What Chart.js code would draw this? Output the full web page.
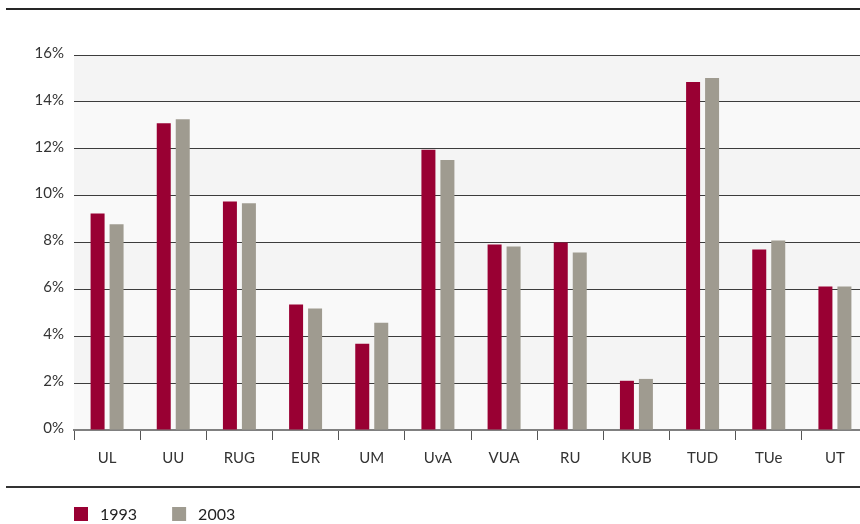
<!DOCTYPE html>
<html>
<head>
<meta charset="utf-8">
<script src="https://cdn.jsdelivr.net/npm/chart.js@4"></script>
<style>
  html, body { margin: 0; padding: 0; background: #fff; overflow: hidden; }
  #wrap { width: 880px; height: 524px; }
</style>
</head>
<body>
<div id="wrap"><canvas id="grafiek" width="880" height="524"></canvas></div>
<script>
const universiteiten = ["UL", "UU", "RUG", "EUR", "UM", "UvA", "VUA", "RU", "KUB", "TUD", "TUe", "UT"];
const jaren = ["1993", "2003"];
const waarden1993 = [9.24, 13.09, 9.75, 5.35, 3.68, 11.96, 7.92, 8.0, 2.1, 14.85, 7.7, 6.12];
const waarden2003 = [8.78, 13.26, 9.67, 5.18, 4.58, 11.52, 7.83, 7.57, 2.18, 15.02, 8.09, 6.12];
const kleuren = ["#990033", "#9f9b90"];

const lettertype = "Lato, 'Open Sans', sans-serif";

// banden achter de rasterlijnen, lijnen boven en onder, en de legenda
const extraTekenen = {
  id: "extraTekenen",
  beforeDraw(chart) {
    const ctx = chart.ctx;
    const y = chart.scales.y;
    const area = chart.chartArea;
    ctx.save();
    for (let v = y.max; v > y.min; v -= 2) {
      const boven = y.getPixelForValue(v);
      const onder = y.getPixelForValue(v - 2);
      ctx.fillStyle = ((y.max - v) / 2) % 2 === 0 ? "#f4f4f4" : "#f9f9f9";
      ctx.fillRect(area.left, boven, area.right - area.left, onder - boven);
    }
    ctx.restore();
  },
  afterDraw(chart) {
    const ctx = chart.ctx;
    const area = chart.chartArea;
    ctx.save();
    ctx.fillStyle = "#262626";
    ctx.fillRect(6, 8, chart.width, 2);
    ctx.fillStyle = "#333";
    ctx.fillRect(6, 486, chart.width, 2);

    ctx.font = "16px " + lettertype;
    ctx.textBaseline = "middle";
    let x = area.left;
    chart.data.datasets.forEach((ds) => {
      ctx.fillStyle = ds.backgroundColor;
      ctx.fillRect(x, 507, 14, 14);
      ctx.fillStyle = "#222";
      ctx.fillText(ds.label, x + 26, 515);
      x += 26 + ctx.measureText(ds.label).width + 35;
    });
    ctx.restore();
  },
};

const ctx = document.getElementById("grafiek").getContext("2d");
const grafiek = new Chart(ctx, {
  type: "bar",
  data: {
    labels: universiteiten,
    datasets: [
      {
        label: jaren[0],
        data: waarden1993,
        backgroundColor: kleuren[0],
        categoryPercentage: 0.574,
        barPercentage: 0.737,
      },
      {
        label: jaren[1],
        data: waarden2003,
        backgroundColor: kleuren[1],
        categoryPercentage: 0.574,
        barPercentage: 0.737,
      },
    ],
  },
  options: {
    responsive: false,
    animation: false,
    layout: {
      padding: { left: 0, right: 12, top: 55, bottom: 54 },
    },
    plugins: {
      legend: { display: false },
      tooltip: { enabled: false },
    },
    scales: {
      x: {
        grid: {
          offset: true,
          drawOnChartArea: false,
          drawTicks: true,
          tickLength: 10,
          color: "#555",
          lineWidth: 1,
        },
        border: { display: true, color: "#808080", width: 2 },
        ticks: {
          color: "#333",
          font: { family: lettertype, size: 15 },
          padding: 9,
          maxRotation: 0,
        },
        afterFit(scale) {
          scale.height = 40;
          scale.paddingLeft = 0;
          scale.paddingRight = 0;
        },
      },
      y: {
        min: 0,
        max: 16,
        grid: {
          drawTicks: false,
          color: (c) => (c.tick.value === 0 ? "rgba(0,0,0,0)" : "#3c3c3c"),
          lineWidth: 1,
        },
        border: { display: false },
        ticks: {
          stepSize: 2,
          color: "#333",
          font: { family: lettertype, size: 15 },
          padding: 10,
          labelOffset: -2,
          callback: (v) => v + "%",
        },
        afterFit(scale) {
          scale.width = 74;
          scale.paddingTop = 0;
          scale.paddingBottom = 0;
        },
      },
    },
  },
  plugins: [extraTekenen],
});
</script>
</body>
</html>
